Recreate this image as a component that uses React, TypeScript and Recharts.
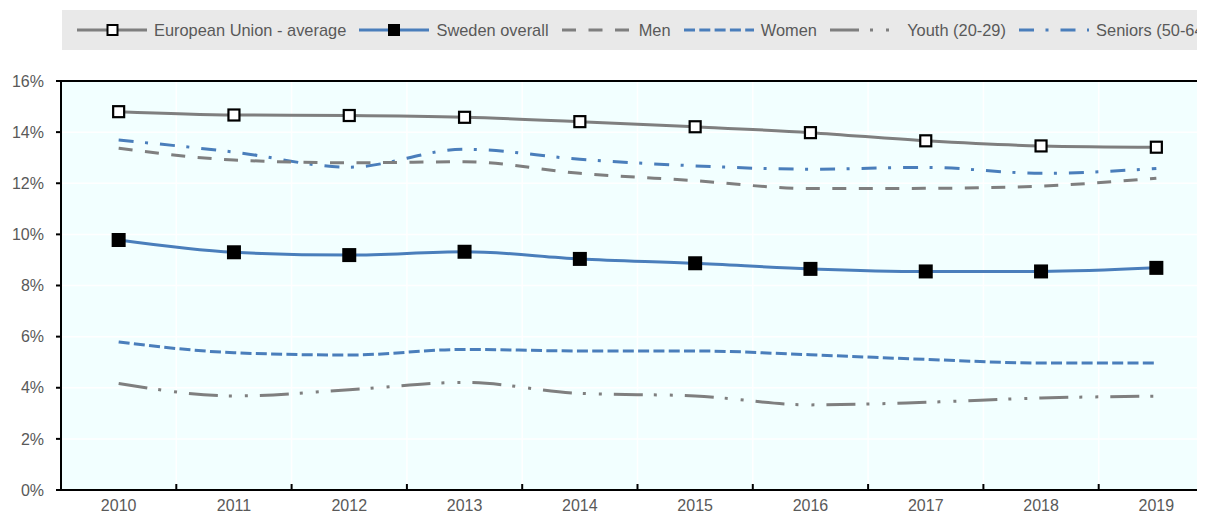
import { LineChart, Line, XAxis, YAxis, CartesianGrid, ReferenceLine } from 'recharts';

const years = [2010, 2011, 2012, 2013, 2014, 2015, 2016, 2017, 2018, 2019];
const euAverage = [14.8, 14.67, 14.65, 14.58, 14.41, 14.21, 13.98, 13.66, 13.46, 13.41];
const swedenOverall = [9.78, 9.3, 9.19, 9.32, 9.04, 8.87, 8.65, 8.55, 8.55, 8.69];
const men = [13.37, 12.91, 12.8, 12.84, 12.39, 12.1, 11.79, 11.8, 11.89, 12.2];
const women = [5.79, 5.37, 5.28, 5.5, 5.44, 5.44, 5.29, 5.11, 4.97, 4.97];
const youth = [4.17, 3.68, 3.92, 4.21, 3.78, 3.68, 3.33, 3.43, 3.6, 3.67];
const seniors = [13.69, 13.22, 12.63, 13.33, 12.94, 12.68, 12.55, 12.62, 12.39, 12.58];
const yTicks = [0, 2, 4, 6, 8, 10, 12, 14, 16];

const GREY = '#7f7f7f';
const BLUE = '#4a7ebb';
const TEXT = '#595959';

const data = years.map((year, i) => ({
  year,
  eu: euAverage[i],
  sweden: swedenOverall[i],
  men: men[i],
  women: women[i],
  youth: youth[i],
  seniors: seniors[i],
}));

// labels sit on the years, tick marks sit between them
const boundaries = [years[0] - 0.5, ...years.map((y) => y + 0.5)];
const xTicks = [...years, ...boundaries].sort((a, b) => a - b);

const DASH = {
  men: '14 12.5',
  women: '11 4.3',
  youth: '29 11 3 13 3 12',
  seniors: '15 11.5 3 12',
};

/* eslint-disable @typescript-eslint/no-explicit-any */
function XTick(props: any) {
  const { x, y, payload } = props;
  if (Number.isInteger(payload.value)) {
    return (
      <text x={x} y={y} dy={21} textAnchor="middle" fontSize={16} fill={TEXT}>
        {payload.value}
      </text>
    );
  }
  return <line x1={x} x2={x} y1={y} y2={y - 6} stroke="#000" strokeWidth={2} />;
}

function OpenSquare(p: any) {
  if (p.cx == null || p.cy == null) return <g key={`eu-${p.index}`} />;
  return (
    <rect
      key={`eu-${p.index}`}
      x={p.cx - 5.5}
      y={p.cy - 5.5}
      width={11}
      height={11}
      fill="#fff"
      stroke="#000"
      strokeWidth={2.2}
    />
  );
}

function FilledSquare(p: any) {
  if (p.cx == null || p.cy == null) return <g key={`se-${p.index}`} />;
  return <rect key={`se-${p.index}`} x={p.cx - 7} y={p.cy - 7} width={14} height={14} fill="#000" />;
}

const legendItems = [
  { label: 'European Union - average', color: GREY, dash: undefined, marker: 'open' },
  { label: 'Sweden overall', color: BLUE, dash: undefined, marker: 'filled' },
  { label: 'Men', color: GREY, dash: DASH.men, marker: '' },
  { label: 'Women', color: BLUE, dash: DASH.women, marker: '' },
  { label: 'Youth (20-29)', color: GREY, dash: DASH.youth, marker: '' },
  { label: 'Seniors (50-64)', color: BLUE, dash: DASH.seniors, marker: '' },
];

function LegendBar() {
  return (
    <div
      style={{
        position: 'absolute',
        left: 62,
        top: 10,
        right: 0,
        height: 40,
        background: '#e9e9e9',
        display: 'flex',
        alignItems: 'center',
        paddingLeft: 15,
        gap: 13.2,
        overflow: 'hidden',
        whiteSpace: 'nowrap',
      }}
    >
      {legendItems.map((item) => (
        <div key={item.label} style={{ display: 'flex', alignItems: 'center', flex: 'none' }}>
          <svg width={70} height={14}>
            <line x1={0} x2={70} y1={7} y2={7} stroke={item.color} strokeWidth={3} strokeDasharray={item.dash} />
            {item.marker === 'open' && (
              <rect x={30.5} y={2} width={10} height={10} fill="#fff" stroke="#000" strokeWidth={2} />
            )}
            {item.marker === 'filled' && <rect x={29} y={1} width={12} height={12} fill="#000" />}
          </svg>
          <span style={{ marginLeft: 7, fontSize: 16.4, color: TEXT }}>{item.label}</span>
        </div>
      ))}
    </div>
  );
}

export default function App() {
  return (
    <div
      style={{
        margin: '-8px -8px 0 -8px',
        width: 1205,
        height: 514,
        overflow: 'hidden',
        position: 'relative',
        background: '#fff',
        fontFamily: '"Liberation Sans", Arial, sans-serif',
      }}
    >
      <LineChart width={1232} height={514} data={data} margin={{ top: 81, right: 18, bottom: 0, left: 0 }}>
        <CartesianGrid vertical={false} stroke="#fff" strokeWidth={1.5} fill="#f2ffff" />
        {years.slice(1).map((y) => (
          <ReferenceLine key={y} x={y - 0.5} stroke="#fff" strokeWidth={1.5} />
        ))}
        <ReferenceLine y={16} stroke="#000" strokeWidth={2} />
        <XAxis
          type="number"
          dataKey="year"
          domain={[boundaries[0], boundaries[boundaries.length - 1]]}
          ticks={xTicks}
          interval={0}
          tick={<XTick />}
          tickLine={false}
          tickSize={0}
          tickMargin={0}
          height={24}
          axisLine={{ stroke: '#000', strokeWidth: 2 }}
        />
        <YAxis
          domain={[0, 16]}
          ticks={yTicks}
          interval={0}
          width={61}
          tickFormatter={(v) => `${v}%`}
          tick={{ fill: TEXT, fontSize: 16 }}
          tickSize={5}
          tickMargin={12}
          tickLine={{ stroke: '#000', strokeWidth: 2 }}
          axisLine={{ stroke: '#000', strokeWidth: 2 }}
        />
        <Line type="monotone" dataKey="seniors" stroke={BLUE} strokeWidth={3} strokeDasharray={DASH.seniors} dot={false} isAnimationActive={false} />
        <Line type="monotone" dataKey="men" stroke={GREY} strokeWidth={3} strokeDasharray={DASH.men} dot={false} isAnimationActive={false} />
        <Line type="monotone" dataKey="youth" stroke={GREY} strokeWidth={3} strokeDasharray={DASH.youth} dot={false} isAnimationActive={false} />
        <Line type="monotone" dataKey="women" stroke={BLUE} strokeWidth={3} strokeDasharray={DASH.women} dot={false} isAnimationActive={false} />
        <Line type="monotone" dataKey="sweden" stroke={BLUE} strokeWidth={3} dot={FilledSquare} activeDot={false} isAnimationActive={false} />
        <Line type="monotone" dataKey="eu" stroke={GREY} strokeWidth={3} dot={OpenSquare} activeDot={false} isAnimationActive={false} />
      </LineChart>
      <LegendBar />
    </div>
  );
}
